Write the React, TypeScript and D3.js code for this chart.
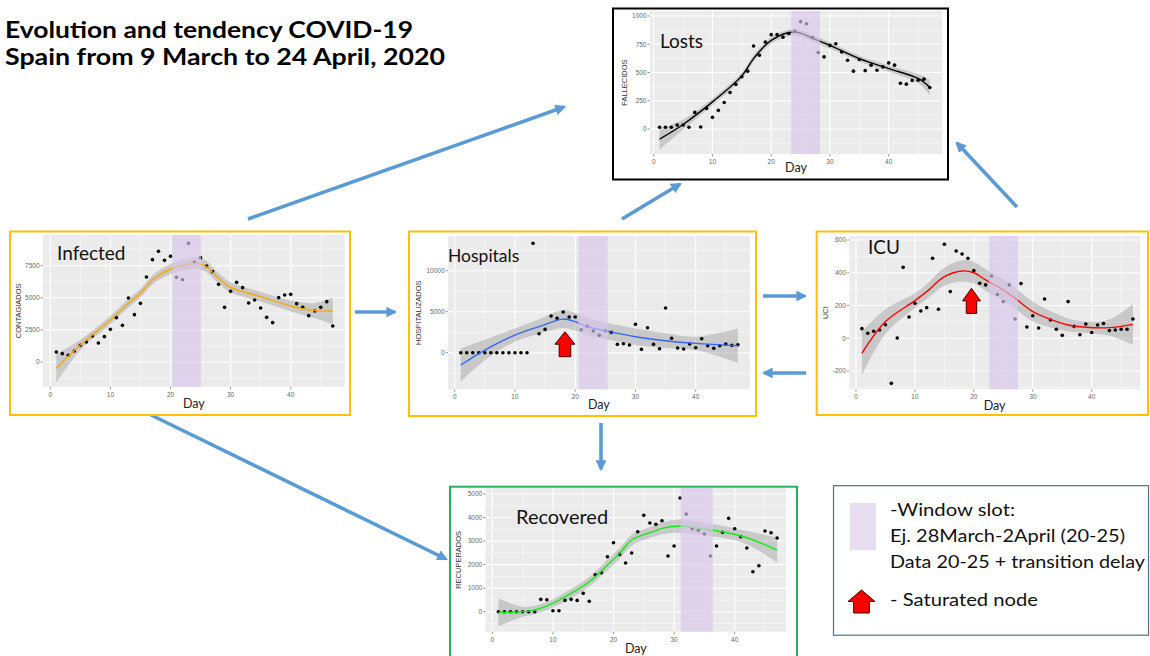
import React from 'react';
import * as d3 from 'd3';

// day index of every observation (1 = 9 March)
const days = d3.range(1, 48);

const infected = [779, 650, 520, 857, 1298, 1558, 2025, 1480, 1973, 2544, 3453, 2856, 4984, 3686, 4569, 6620,
  7970, 8619, 7918, 8229, 6594, 6412, 9242, 7762, 8125, 7476, 7035, 6049, 4257, 5503, 6204, 5789, 4595, 4828,
  4205, 3478, 3063, 5010, 5218, 5270, 4543, 4257, 3608, 3972, 4257, 4699, 2804];
const hospitals = [0, 0, 0, 0, 0, 0, 0, 0, 0, 0, 0, 0, 13333, 2317, 2846, 4472, 4187, 4959, 4350, 4350, 2805,
  3211, 2642, 2114, 2683, 2480, 1016, 1098, 935, 3455, 406, 3049, 1016, 488, 5447, 1748, 569, 447, 1057, 610,
  1707, 854, 528, 854, 1057, 894, 976];
const icu = [59, 31, 43, 51, 83, -275, 2, 433, 130, 214, 167, 187, 488, 177, 574, 285, 533, 515, 488, 413, 336,
  326, 380, 267, 224, 326, 118, 334, 69, 138, 63, 240, 112, 55, 18, 224, 73, 22, 87, 35, 81, 90, 47, 51, 55, 55,
  118];
const losts = [15, 15, 15, 35, 35, 15, 147, 18, 182, 103, 165, 235, 323, 394, 462, 512, 735, 653, 770, 835, 835,
  813, 845, 865, 950, 932, 810, 676, 638, 740, 755, 682, 608, 512, 615, 517, 565, 520, 550, 585, 565, 405, 397,
  430, 432, 441, 367];
const recovered = [0, 0, 0, 0, 0, 0, 0, 524, 510, 42, 42, 481, 524, 481, 779, 439, 1572, 1657, 2336, 2931, 2435,
  2067, 2492, 3398, 4092, 3766, 3710, 3866, 2365, 2790, 4829, 4149, 3526, 3455, 3299, 2365, 2790, 3370, 3965,
  3526, 3186, 2705, 1699, 1954, 3427, 3356, 3129];

// smoothed trend (loess) and its confidence half-width
const infectedFitDays = [1, 5, 10, 13, 15, 17, 20, 23, 24.5, 26, 28, 30, 35, 40, 44, 47];
const infectedFit = [-493, 1324, 3271, 4569, 5348, 6386, 7243, 7632, 7684, 7424, 6516, 5815, 5088, 4361, 3998, 3972];
const infectedSe = [1100, 400, 330, 330, 330, 350, 380, 420, 450, 450, 420, 400, 380, 420, 600, 1050];

const hospitalsFitDays = [1, 5, 10, 14, 18, 20, 22, 25, 30, 35, 40, 47];
const hospitalsFit = [-1504, 325, 2155, 3171, 4100, 3780, 3171, 2683, 1951, 1463, 1138, 854];
const hospitalsSe = [2050, 1260, 810, 900, 1100, 1100, 1050, 1000, 1000, 900, 820, 2100];

const icuFitDays = [1, 5, 10, 12, 15, 18, 20, 22, 25, 27, 30, 33, 36, 39, 43, 47];
const icuFit = [-92, 102, 230, 285, 376, 411, 400, 356, 295, 244, 163, 116, 81, 67, 65, 85];
const icuSe = [133, 75, 45, 45, 55, 66, 66, 66, 66, 64, 61, 50, 40, 35, 50, 125];

const lostsFitDays = [1, 5, 10, 15, 17, 20, 24, 27, 30, 35, 40, 45, 47];
const lostsFit = [-90, 40, 240, 470, 623, 785, 858, 805, 740, 623, 535, 447, 367];
const lostsSe = [95, 45, 30, 30, 30, 30, 30, 30, 28, 25, 28, 40, 70];

const recoveredFitDays = [1, 5, 7, 10, 13, 16, 19, 21, 23, 26, 28, 31, 34, 38, 42, 47];
const recoveredFit = [-28, 0, 71, 354, 779, 1274, 1982, 2478, 3044, 3356, 3540, 3639, 3540, 3398, 3143, 2620];
const recoveredSe = [600, 212, 180, 180, 200, 200, 220, 230, 230, 230, 250, 283, 270, 250, 280, 530];

// window slots (days) and tick values
const infectedWindow = [20.3, 25.1];
const hospitalsWindow = [20.5, 25.4];
const icuWindow = [22.6, 27.5];
const lostsWindow = [23.4, 28.3];
const recoveredWindow = [31.1, 36.4];

const xTicks = [0, 10, 20, 30, 40];
const infectedTicks = [0, 2500, 5000, 7500];
const hospitalsTicks = [0, 5000, 10000];
const icuTicks = [-200, 0, 200, 400, 600];
const lostsTicks = [0, 250, 500, 750, 1000];
const recoveredTicks = [0, 1000, 2000, 3000, 4000, 5000];

const titleLines = ['Evolution and tendency COVID-19', 'Spain from 9 March to 24 April, 2020'];
const titleWidths = [408, 440];
const legendLines = ['-Window slot:', 'Ej. 28March-2April (20-25)', 'Data 20-25 + transition delay'];
const legendWidths = [125, 235, 255];
const legendArrowText = '- Saturated node';

type Box = [number, number, number, number];

interface PanelSpec {
  id: string;
  frame: Box;
  frameColor: string;
  panel: Box;
  xPx: [number, number]; // pixel of day 0 and day 40
  yAnchor: [number, number, number, number]; // value, px, value, px
  yTicks: number[];
  band: number[];
  name: string;
  namePos: [number, number];
  nameSize: number;
  yTitle: string;
  yTitleX: number;
  dayY: number;
  lineColor: string;
  values: number[];
  fitDays: number[];
  fit: number[];
  se: number[];
  saturated?: { day: number; top: number; bottom: number; w: number };
}

const panels: PanelSpec[] = [
  {
    id: 'losts', frame: [613, 8.5, 948, 179.5], frameColor: '#000', panel: [650, 11, 942, 154],
    xPx: [653.7, 888.7], yAnchor: [0, 129, 1000, 16], yTicks: lostsTicks, band: lostsWindow,
    name: 'Losts', namePos: [660, 48], nameSize: 19, yTitle: 'FALLECIDOS', yTitleX: 624, dayY: 172,
    lineColor: '#000', values: losts, fitDays: lostsFitDays, fit: lostsFit, se: lostsSe,
  },
  {
    id: 'infected', frame: [10, 231.5, 350, 415], frameColor: '#FFC000', panel: [43, 235, 344.7, 386.7],
    xPx: [50.3, 290.7], yAnchor: [0, 362, 7500, 265.7], yTicks: infectedTicks, band: infectedWindow,
    name: 'Infected', namePos: [57, 260], nameSize: 19, yTitle: 'CONTAGIADOS', yTitleX: 18, dayY: 408,
    lineColor: '#FFA500', values: infected, fitDays: infectedFitDays, fit: infectedFit, se: infectedSe,
  },
  {
    id: 'hospitals', frame: [409, 231.5, 756, 416], frameColor: '#FFC000', panel: [448, 236, 749.7, 389.3],
    xPx: [454.7, 695.7], yAnchor: [0, 352.7, 10000, 270.7], yTicks: hospitalsTicks, band: hospitalsWindow,
    name: 'Hospitals', namePos: [448, 262], nameSize: 17.5, yTitle: 'HOSPITALIZADOS', yTitleX: 418, dayY: 409,
    lineColor: '#3366FF', values: hospitals, fitDays: hospitalsFitDays, fit: hospitalsFit, se: hospitalsSe,
    saturated: { day: 18.3, top: 2560, bottom: -490, w: 20 },
  },
  {
    id: 'icu', frame: [816.7, 231.5, 1148, 415], frameColor: '#FFC000', panel: [849.3, 236, 1140, 389.3],
    xPx: [856, 1091.7], yAnchor: [0, 338.3, 600, 240], yTicks: icuTicks, band: icuWindow,
    name: 'ICU', namePos: [868, 254], nameSize: 19, yTitle: 'UCI', yTitleX: 825, dayY: 410,
    lineColor: '#FF0000', values: icu, fitDays: icuFitDays, fit: icuFit, se: icuSe,
    saturated: { day: 19.6, top: 305, bottom: 152, w: 18 },
  },
  {
    id: 'recovered', frame: [450, 486.7, 797, 662], frameColor: '#21B25A', panel: [485.7, 488, 786, 631.7],
    xPx: [492.3, 734.7], yAnchor: [0, 611.7, 5000, 494], yTicks: recoveredTicks, band: recoveredWindow,
    name: 'Recovered', namePos: [516, 524], nameSize: 20, yTitle: 'RECUPERADOS', yTitleX: 458, dayY: 653,
    lineColor: '#11EE11', values: recovered, fitDays: recoveredFitDays, fit: recoveredFit, se: recoveredSe,
  },
];

// connectors between panels
const links: { from: [number, number]; to: [number, number] }[] = [
  { from: [248, 219], to: [564, 107] },
  { from: [355, 312], to: [395, 312] },
  { from: [622, 219], to: [680, 184] },
  { from: [1017, 207], to: [957, 143] },
  { from: [763, 296], to: [805, 296] },
  { from: [806, 373], to: [764, 373] },
  { from: [601, 423], to: [601, 469] },
  { from: [147, 413], to: [446, 559] },
];

const SANS = '"Liberation Sans", Arial, sans-serif';
const LABEL = 'Lato, "Open Sans", sans-serif';
const BLUE = '#5B9BD5';
const BAND = '#D9C6EC';

const blockArrow = (cx: number, top: number, bottom: number, w: number) => {
  const head = (bottom - top) * 0.5;
  const stem = w * 0.58;
  return `M${cx},${top} L${cx + w / 2},${top + head} L${cx + stem / 2},${top + head} L${cx + stem / 2},${bottom} ` +
    `L${cx - stem / 2},${bottom} L${cx - stem / 2},${top + head} L${cx - w / 2},${top + head} Z`;
};

const Panel: React.FC<{ p: PanelSpec }> = ({ p }) => {
  const [px0, py0, px1, py1] = p.panel;
  const x = d3.scaleLinear().domain([0, 40]).range(p.xPx);
  const y = d3.scaleLinear().domain([p.yAnchor[0], p.yAnchor[2]]).range([p.yAnchor[1], p.yAnchor[3]]);

  const step = p.yTicks[1] - p.yTicks[0];
  const yMinor = [...p.yTicks.map(t => t - step / 2), p.yTicks[p.yTicks.length - 1] + step / 2]
    .filter(v => y(v) > py0 && y(v) < py1);
  const xMinor = [5, 15, 25, 35, 45].filter(v => x(v) > px0 && x(v) < px1);

  const fitPts = p.fitDays.map((d, i) => ({ d, f: p.fit[i], s: p.se[i] }));
  const line = d3.line<typeof fitPts[0]>().x(e => x(e.d)).y(e => y(e.f)).curve(d3.curveCatmullRom);
  const ribbon = d3.area<typeof fitPts[0]>().x(e => x(e.d)).y0(e => y(e.f - e.s)).y1(e => y(e.f + e.s))
    .curve(d3.curveCatmullRom);

  const [fx0, fy0, fx1, fy1] = p.frame;
  const clip = `clip-${p.id}`;

  return (
    <g>
      <rect x={fx0} y={fy0} width={fx1 - fx0} height={fy1 - fy0} fill="#fff" />
      <defs>
        <clipPath id={clip}>
          <rect x={px0} y={py0} width={px1 - px0} height={py1 - py0} />
        </clipPath>
      </defs>
      <rect x={px0} y={py0} width={px1 - px0} height={py1 - py0} fill="#EBEBEB" />
      {yMinor.map(v => (
        <line key={`ym${v}`} x1={px0} x2={px1} y1={y(v)} y2={y(v)} stroke="#fff" strokeWidth={0.5} />
      ))}
      {xMinor.map(v => (
        <line key={`xm${v}`} x1={x(v)} x2={x(v)} y1={py0} y2={py1} stroke="#fff" strokeWidth={0.5} />
      ))}
      {p.yTicks.map(v => (
        <line key={`yM${v}`} x1={px0} x2={px1} y1={y(v)} y2={y(v)} stroke="#fff" strokeWidth={1.1} />
      ))}
      {xTicks.map(v => (
        <line key={`xM${v}`} x1={x(v)} x2={x(v)} y1={py0} y2={py1} stroke="#fff" strokeWidth={1.1} />
      ))}
      <g clipPath={`url(#${clip})`}>
        <path d={ribbon(fitPts) ?? ''} fill="#999" fillOpacity={0.42} />
        {days.map((d, i) => (
          <circle key={d} cx={x(d)} cy={y(p.values[i])} r={1.8} fill="#000" />
        ))}
        <path d={line(fitPts) ?? ''} fill="none" stroke={p.lineColor} strokeWidth={1.4} />
      </g>
      <rect x={x(p.band[0])} y={py0} width={x(p.band[1]) - x(p.band[0])} height={py1 - py0}
        fill={BAND} fillOpacity={0.65} />
      {/* axes */}
      {p.yTicks.map(v => (
        <g key={`yt${v}`}>
          <line x1={px0 - 2.5} x2={px0} y1={y(v)} y2={y(v)} stroke="#555" strokeWidth={0.6} />
          <text x={px0 - 3.5} y={y(v)} dy="0.35em" textAnchor="end" fontFamily={SANS} fontSize={6.5}
            fill="#666">{v}</text>
        </g>
      ))}
      {xTicks.map(v => (
        <g key={`xt${v}`}>
          <line x1={x(v)} x2={x(v)} y1={py1} y2={py1 + 2.5} stroke="#555" strokeWidth={0.6} />
          <text x={x(v)} y={py1 + 10} textAnchor="middle" fontFamily={SANS} fontSize={6.5} fill="#666">{v}</text>
        </g>
      ))}
      <text transform={`translate(${p.yTitleX},${(py0 + py1) / 2}) rotate(-90)`} textAnchor="middle"
        dy="0.35em" fontFamily={SANS} fontSize={7.5} fill="#333">{p.yTitle}</text>
      <text x={(px0 + px1) / 2} y={p.dayY} textAnchor="middle" fontFamily={LABEL} fontSize={12.5}
        fill="#222">Day</text>
      <text x={p.namePos[0]} y={p.namePos[1]} fontFamily={LABEL} fontSize={p.nameSize} fill="#111">{p.name}</text>
      {p.saturated && (
        <path d={blockArrow(x(p.saturated.day), y(p.saturated.top), y(p.saturated.bottom), p.saturated.w)}
          fill="#FF0000" stroke="#400" strokeWidth={1} />
      )}
      <rect x={fx0} y={fy0} width={fx1 - fx0} height={fy1 - fy0} fill="none" stroke={p.frameColor}
        strokeWidth={2} />
    </g>
  );
};

export default function App() {
  return (
    <svg width={1150} height={656} viewBox="0 0 1150 656"
      style={{ position: 'absolute', left: 0, top: 0, background: '#fff' }}>
      <defs>
        <marker id="head" viewBox="0 0 10 10" refX={8} refY={5} markerWidth={3} markerHeight={3}
          orient="auto" markerUnits="strokeWidth">
          <path d="M0,0 L10,5 L0,10 Z" fill={BLUE} />
        </marker>
      </defs>
      {titleLines.map((t, i) => (
        <text key={t} x={5} y={38 + i * 27} fontFamily={LABEL} fontWeight={700} fontSize={22.5} fill="#000"
          textLength={titleWidths[i]} lengthAdjust="spacingAndGlyphs">{t}</text>
      ))}
      {links.map((l, i) => (
        <line key={i} x1={l.from[0]} y1={l.from[1]} x2={l.to[0]} y2={l.to[1]} stroke={BLUE} strokeWidth={3.6}
          markerEnd="url(#head)" />
      ))}
      {panels.map(p => <Panel key={p.id} p={p} />)}
      <g>
        <rect x={833.5} y={485.7} width={315} height={149.5} fill="#fff" stroke="#4F6F96" strokeWidth={1.2} />
        <rect x={850} y={503} width={26} height={47} fill="#E8DDF1" />
        {legendLines.map((t, i) => (
          <text key={t} x={890} y={516 + i * 26} fontFamily={LABEL} fontSize={17.5} fill="#111"
            textLength={legendWidths[i]} lengthAdjust="spacingAndGlyphs">{t}</text>
        ))}
        <path d={blockArrow(861.5, 590, 613, 27)} fill="#FF0000" stroke="#400" strokeWidth={1} />
        <text x={890} y={606} fontFamily={LABEL} fontSize={17.5} fill="#111" textLength={148}
          lengthAdjust="spacingAndGlyphs">{legendArrowText}</text>
      </g>
    </svg>
  );
}
